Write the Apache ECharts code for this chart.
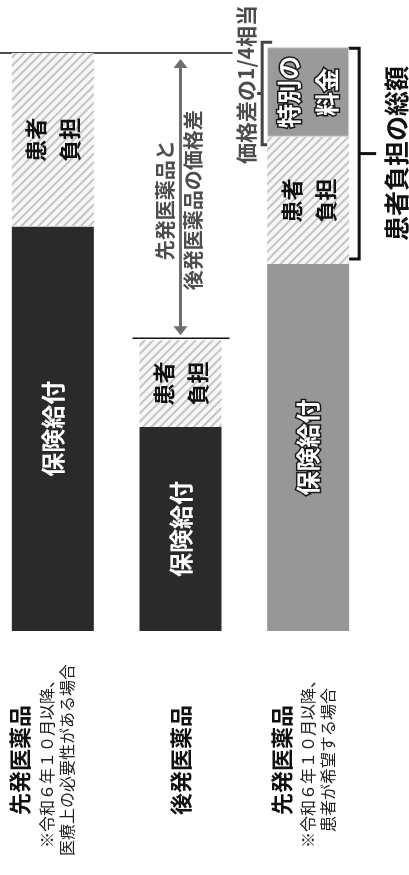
<!DOCTYPE html>
<html>
<head>
<meta charset="utf-8">
<script src="https://cdn.jsdelivr.net/npm/echarts@6/dist/echarts.min.js"></script>
<style>
html, body { margin: 0; padding: 0; background: #fff; }
#chart { width: 409px; height: 875px; }
</style>
</head>
<body>
<div id="chart"></div>
<script>
var drugNames = ['先発医薬品', '後発医薬品', '先発医薬品'];
var drugNotes = [
  ['※令和６年１０月以降、', '医療上の必要性がある場合'],
  [],
  ['※令和６年１０月以降、', '患者が希望する場合']
];
var insurance = [70, 35.3, 63.5];
var patient = [30, 15, 22];
var special = [null, null, 15.5];

var fontsty = 'Noto Sans CJK JP';
var myChart = echarts.init(document.getElementById('chart'));

var categories = drugNames.map(function (n, i) {
  return [n].concat(drugNotes[i]).join('\n');
});
// trailing spacer line per label, nudges the label block left
var labelSpacer = ['s1', '', 's2'];

var hatch = {
  color: '#f7f7f7',
  decal: {
    symbol: 'rect',
    symbolSize: 1,
    color: '#c4c4c4',
    dashArrayX: [1, 0],
    dashArrayY: [2, 4],
    rotation: -Math.PI / 4
  }
};

var option = {
  animation: false,
  grid: { left: -11, right: 37, top: 53, bottom: 244, containLabel: false, outerBoundsMode: 'none' },
  xAxis: {
    type: 'category',
    data: categories,
    axisLine: { show: false },
    axisTick: { show: false },
    axisLabel: {
      interval: 0,
      rotate: 90,
      align: 'center',
      verticalAlign: 'middle',
      margin: 129,
      fontFamily: fontsty,
      formatter: function (v, idx) {
        var l = v.split('\n');
        var s = '{b|' + l[0] + '}';
        for (var i = 1; i < l.length; i++) s += '\n{n|' + l[i] + '}';
        if (labelSpacer[idx]) s += '\n{' + labelSpacer[idx] + '| }';
        return s;
      },
      rich: {
        b: { fontSize: 22, fontWeight: 'bold', color: '#111', lineHeight: 34, align: 'center', fontFamily: fontsty },
        n: { fontSize: 16, color: '#222', lineHeight: 20, align: 'center', fontFamily: fontsty },
        s1: { fontSize: 10, lineHeight: 26 },
        s2: { fontSize: 10, lineHeight: 14 }
      }
    }
  },
  yAxis: { type: 'value', min: 0, max: 100, show: false, splitLine: { show: false } },
  series: [
    {
      name: '保険給付',
      type: 'bar',
      stack: 'total',
      barWidth: 82,
      clip: false,
      data: insurance.map(function (v, i) {
        return {
          value: v,
          itemStyle: { color: i == 2 ? '#979797' : '#2a2a2a' },
          label: i == 2 ? { textBorderColor: '#1a1a1a', textBorderWidth: 3 } : {}
        };
      }),
      label: {
        show: true, position: 'inside', rotate: 90, formatter: '保険給付',
        color: '#fff', fontSize: 24, fontWeight: 'bold', fontFamily: fontsty
      }
    },
    {
      name: '患者負担',
      type: 'bar',
      stack: 'total',
      barWidth: 82,
      clip: false,
      data: patient,
      itemStyle: hatch,
      label: {
        show: true, position: 'inside', rotate: 90, formatter: '患者\n負担',
        color: '#111', fontSize: 22, fontWeight: 'bold', lineHeight: 34, fontFamily: fontsty
      }
    },
    {
      name: '特別の料金',
      type: 'bar',
      stack: 'total',
      barWidth: 82,
      clip: false,
      data: special,
      itemStyle: { color: '#9a9a9a', borderColor: '#d6d6d6', borderWidth: 1 },
      label: {
        show: true, position: 'inside', rotate: 90, formatter: '特別の\n料金',
        color: '#fff', fontSize: 24, fontWeight: 'bold', lineHeight: 38, fontFamily: fontsty,
        textBorderColor: '#1a1a1a', textBorderWidth: 3
      }
    }
  ]
};
myChart.setOption(option);

// annotations placed from the chart's own scales
function px(i) { return myChart.convertToPixel({ xAxisIndex: 0 }, i); }
function py(v) { return myChart.convertToPixel({ yAxisIndex: 0 }, v); }
var half = 41;
var x1 = px(1), x2 = px(2);
var top0 = py(insurance[0] + patient[0]);
var top1 = py(insurance[1] + patient[1]);
var y2a = py(insurance[2]);
var y2b = py(insurance[2] + patient[2]);
var y2c = py(insurance[2] + patient[2] + special[2]);
var aT = top0 + 6, aB = top1 - 5;
var l3 = x2 - half, r3 = x2 + half;
var bigMid = (y2c + 1 + y2a - 5) / 2;
var smallMid = (y2c - 5 + y2b + 8) / 2;

myChart.setOption({
  graphic: [
    { type: 'line', shape: { x1: 0, y1: top0, x2: x1 + 52, y2: top0 }, style: { stroke: '#111', lineWidth: 1.5 } },
    { type: 'line', shape: { x1: x1 - 48, y1: top1 - 2, x2: x1 + 49, y2: top1 - 2 }, style: { stroke: '#111', lineWidth: 1.5 } },
    { type: 'line', shape: { x1: x1, y1: aT + 8, x2: x1, y2: aB - 8 }, style: { stroke: '#6e6e6e', lineWidth: 3 } },
    { type: 'polygon', shape: { points: [[x1 - 7, aT + 9], [x1, aT], [x1 + 7, aT + 9]] }, style: { fill: '#6e6e6e' } },
    { type: 'polygon', shape: { points: [[x1 - 7, aB - 9], [x1, aB], [x1 + 7, aB - 9]] }, style: { fill: '#6e6e6e' } },
    {
      type: 'text', x: x1 - 1, y: (aT + aB) / 2 + 3, rotation: Math.PI / 2,
      style: {
        text: '先発医薬品と\n後発医薬品の価格差', align: 'center', verticalAlign: 'middle',
        fill: '#4d4d4d', font: 'bold 20px "Noto Sans CJK JP"', lineHeight: 28
      }
    },
    {
      type: 'text', x: l3 - 21, y: smallMid - 9, rotation: Math.PI / 2,
      style: {
        text: '価格差の1/4相当', align: 'center', verticalAlign: 'middle',
        fill: '#4d4d4d', font: 'bold 21px "Noto Sans CJK JP"'
      }
    },
    {
      type: 'polyline',
      shape: { points: [[l3 + 5, y2c - 5], [l3 - 5, y2c - 5], [l3 - 5, y2b + 8], [l3 + 5, y2b + 8]] },
      style: { stroke: '#444', lineWidth: 3, fill: null }
    },
    { type: 'line', shape: { x1: l3 - 10, y1: smallMid, x2: l3 - 5, y2: smallMid }, style: { stroke: '#444', lineWidth: 3 } },
    {
      type: 'polyline',
      shape: { points: [[r3 - 1, y2c + 1], [r3 + 10, y2c + 1], [r3 + 10, y2a - 5], [r3 - 1, y2a - 5]] },
      style: { stroke: '#111', lineWidth: 3, fill: null }
    },
    { type: 'line', shape: { x1: r3 + 10, y1: bigMid, x2: r3 + 27, y2: bigMid }, style: { stroke: '#111', lineWidth: 3 } },
    {
      type: 'text', x: r3 + 47, y: bigMid, rotation: Math.PI / 2,
      style: {
        text: '患者負担の総額', align: 'center', verticalAlign: 'middle',
        fill: '#111', font: 'bold 25px "Noto Sans CJK JP"'
      }
    }
  ]
});
</script>
</body>
</html>
